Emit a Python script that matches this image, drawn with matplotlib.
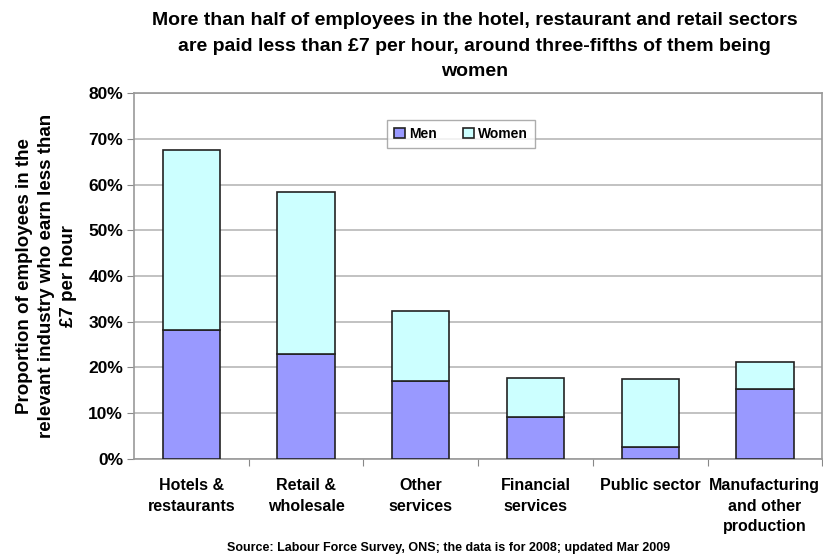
import matplotlib.pyplot as plt
import numpy as np

plt.rcParams['font.family'] = ['Liberation Sans', 'DejaVu Sans']
plt.rcParams['font.weight'] = 'bold'

# Data (percent of employees earning < £7/hour)
sectors = ["Hotels &\nrestaurants", "Retail &\nwholesale", "Other\nservices",
           "Financial\nservices", "Public sector", "Manufacturing\nand other\nproduction"]
men = [28.3, 23.0, 17.0, 9.1, 2.6, 15.4]
totals = [67.5, 58.3, 32.4, 17.6, 17.4, 21.3]
women = [t - m for t, m in zip(totals, men)]

fig = plt.figure(figsize=(8.23, 5.57), dpi=100)
ax = fig.add_axes([0.163, 0.176, 0.836, 0.657])

x = np.arange(len(sectors))
ax.bar(x, men, width=0.5, color='#9999ff', edgecolor='#222222', linewidth=1.2,
       label='Men', zorder=3)
ax.bar(x, women, width=0.5, bottom=men, color='#ccffff', edgecolor='#222222',
       linewidth=1.2, label='Women', zorder=3)

ax.set_xlim(-0.5, len(sectors) - 0.5)
ax.set_ylim(0, 80)
ax.set_yticks(range(0, 81, 10))
ax.set_yticklabels([f"{v}%" for v in range(0, 81, 10)], fontsize=12.5, fontweight='bold')
ax.yaxis.grid(True, color='#b8b8b8', linewidth=1.2, zorder=0)

# category labels centred on bars, tick marks between categories
ax.set_xticks(x + 0.5)
ax.set_xticklabels([])
ax.set_xticks(x, minor=True)
ax.set_xticklabels(sectors, minor=True, fontsize=11.5, fontweight='bold', linespacing=1.45)
ax.tick_params(axis='x', which='minor', length=0, pad=14)
ax.tick_params(axis='x', which='major', length=5, color='#888888')
ax.tick_params(axis='y', length=5, color='#888888', pad=3)

for side in ['left', 'right', 'bottom', 'top']:
    ax.spines[side].set_color('#999999')
    ax.spines[side].set_linewidth(1.2)

ax.set_ylabel("Proportion of employees in the\nrelevant industry who earn less than\n£7 per hour",
              fontsize=13.5, fontweight='bold', linespacing=1.4, labelpad=8)

fig.suptitle("More than half of employees in the hotel, restaurant and retail sectors\n"
             "are paid less than £7 per hour, around three-fifths of them being\nwomen",
             x=0.577, y=0.978, fontsize=14, fontweight='bold', linespacing=1.65)

leg = ax.legend(loc='center', bbox_to_anchor=(0.475, 0.888), ncol=2,
                prop={'size': 10, 'weight': 'bold'},
                frameon=True, fancybox=False, edgecolor='#999999',
                handlelength=0.8, handleheight=0.8, columnspacing=1.9,
                handletextpad=0.3, borderpad=0.5)
leg.get_frame().set_linewidth(1.0)

fig.text(0.545, 0.01, "Source: Labour Force Survey, ONS; the data is for 2008; updated Mar 2009",
         ha='center', fontsize=9, fontweight='bold')

fig.savefig("out.png", dpi=100)
